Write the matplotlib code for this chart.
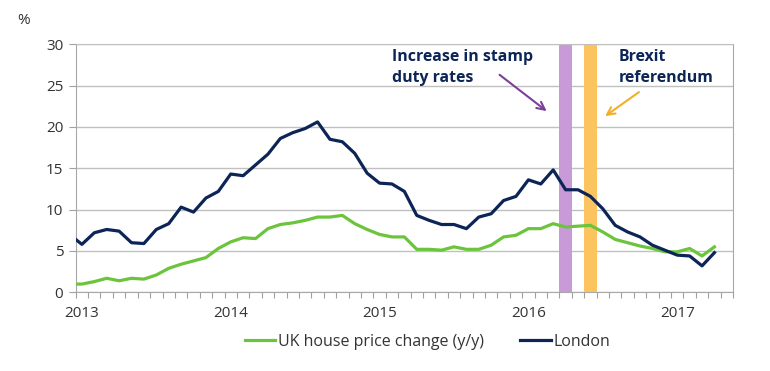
import numpy as np
import matplotlib.pyplot as plt

# monthly data, Dec 2012 .. Apr 2017 (y/y %)
london = [7.0,
          5.8, 7.2, 7.6, 7.4, 6.0, 5.9, 7.6, 8.3, 10.3, 9.7, 11.4, 12.2,
          14.3, 14.1, 15.4, 16.7, 18.6, 19.3, 19.8, 20.6, 18.5, 18.2, 16.8, 14.4,
          13.2, 13.1, 12.2, 9.3, 8.7, 8.2, 8.2, 7.7, 9.1, 9.5, 11.1, 11.6,
          13.6, 13.1, 14.8, 12.4, 12.4, 11.6, 10.1, 8.1, 7.3, 6.7, 5.7, 5.1,
          4.5, 4.4, 3.2, 4.8]
uk = [1.0,
      1.0, 1.3, 1.7, 1.4, 1.7, 1.6, 2.1, 2.9, 3.4, 3.8, 4.2, 5.3,
      6.1, 6.6, 6.5, 7.7, 8.2, 8.4, 8.7, 9.1, 9.1, 9.3, 8.3, 7.6,
      7.0, 6.7, 6.7, 5.2, 5.2, 5.1, 5.5, 5.2, 5.2, 5.7, 6.7, 6.9,
      7.7, 7.7, 8.3, 7.9, 8.0, 8.1, 7.3, 6.4, 6.0, 5.6, 5.3, 4.9,
      4.9, 5.3, 4.4, 5.5]
years = ["2013", "2014", "2015", "2016", "2017"]
n_slots = 53  # Jan 2013 .. May 2017
stamp_duty_month = 39  # Apr 2016
brexit_month = 41      # Jun 2016

NAVY = "#0c2556"
GREEN = "#6cc43c"
GRID = "#c0c0c0"
TXT = "#333333"

plt.rcParams['font.family'] = ['Open Sans', 'DejaVu Sans']

fig = plt.figure(figsize=(7.7, 3.71), dpi=100)
ax = fig.add_axes([0.0983, 0.212, 0.8537, 0.669])

x = np.arange(-1, len(london) - 1) + 0.5
ax.axvspan(stamp_duty_month, stamp_duty_month + 1, color="#c99ad8", lw=0, zorder=2)
ax.axvspan(brexit_month, brexit_month + 1, color="#fcc45e", lw=0, zorder=2)
ax.plot(x, uk, color=GREEN, lw=2.3, zorder=3, label="UK house price change (y/y)")
ax.plot(x, london, color=NAVY, lw=2.3, zorder=4, label="London")

ax.set_xlim(0, n_slots)
ax.set_ylim(0, 30)
ax.set_yticks(range(0, 31, 5))
ax.yaxis.grid(True, color=GRID, lw=1)
ax.set_axisbelow(True)
ax.set_xticks(range(0, n_slots + 1))
ax.set_xticklabels([])
ax.set_xticks([0.5 + 12 * i for i in range(len(years))], minor=True)
ax.set_xticklabels(years, minor=True)
ax.tick_params(axis='x', which='major', length=4, color="#a0a0a0", direction='out')
ax.tick_params(axis='x', which='minor', length=0, pad=10, labelsize=11, labelcolor=TXT)
ax.tick_params(axis='y', length=5, color="#a0a0a0", labelsize=11, labelcolor=TXT, pad=4)
for s in ['left', 'bottom', 'right']:
    ax.spines[s].set_color("#a8a8a8")
ax.spines['top'].set_color(GRID)

fig.text(0.022, 0.945, "%", fontsize=11, color=TXT, ha='left', va='center')

ax.text(25.5, 29.4, "Increase in stamp\nduty rates", fontsize=11.4, fontweight='bold',
        color=NAVY, ha='left', va='top', linespacing=1.38)
ax.annotate("", xy=(38.15, 21.7), xytext=(34.0, 26.5),
            arrowprops=dict(arrowstyle="->", color="#7d3f98", lw=1.5, mutation_scale=14))
ax.text(43.75, 29.4, "Brexit\nreferendum", fontsize=11.4, fontweight='bold',
        color=NAVY, ha='left', va='top', linespacing=1.38)
ax.annotate("", xy=(42.5, 21.1), xytext=(45.6, 24.4),
            arrowprops=dict(arrowstyle="->", color="#f2b02a", lw=1.5, mutation_scale=14))

fig.legend(loc='center', bbox_to_anchor=(0.555, 0.078), ncol=2, frameon=False,
           fontsize=11.5, handlelength=1.9, handletextpad=0.15, columnspacing=2.3,
           labelcolor=TXT)

fig.savefig("out.png", dpi=100)
